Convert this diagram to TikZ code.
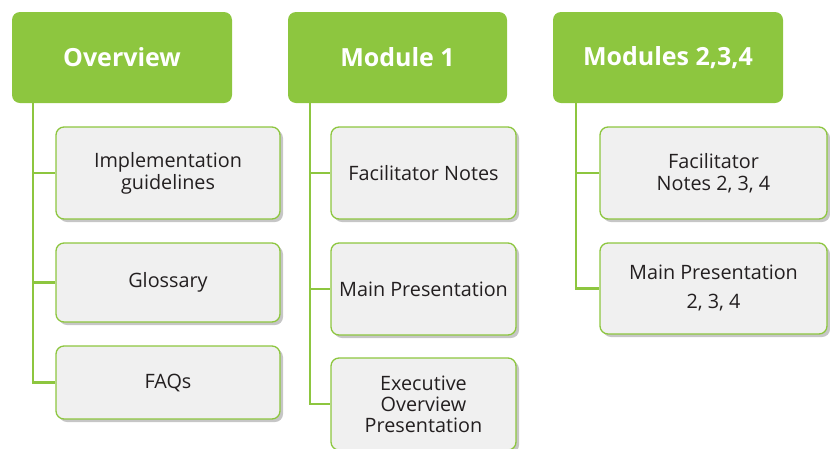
\documentclass[tikz,border=0pt]{standalone}
\usepackage{fontspec}
\setmainfont{Open Sans}
\usetikzlibrary{shadows}
\definecolor{leaf}{HTML}{8DC63F}
\definecolor{paper}{HTML}{F0F0F0}
\definecolor{ink}{HTML}{231F20}
\begin{document}
\begin{tikzpicture}
      [x=1pt,y=-1pt,%%%%%%%%%%%%%%%%%%%%%%%%%%%%%%
      head/.style={rectangle,rounded corners=8pt,fill=leaf,text=white,
        font=\fontsize{25}{30}\selectfont\bfseries,minimum height=91pt},
      item/.style={rectangle,rounded corners=8pt,draw=leaf,line width=1.3pt,
        fill=paper,text=ink,align=center,font=\fontsize{19.8}{22}\selectfont,
        drop shadow={shadow xshift=3pt,shadow yshift=-3pt,opacity=0.45}},
      link/.style={draw=leaf,line width=2.6pt},
      ]%%%%%%%%%%%%%%%%%%%%%%%%%%%%%%
      \useasboundingbox (0,0) rectangle (830,448);

      % column heads
      \node[head,minimum width=220pt] (ov)  at (122,57.5){Overview};
      \node[head,minimum width=219pt] (mod) at (397.5,57.5){Module 1};
      \node[head,minimum width=230pt] (mods) at (668,57.5){Modules 2,3,4};

      % overview items
      \node[item,minimum width=224pt,minimum height=92pt] (impl)  at (168,173){Implementation\\guidelines};
      \node[item,minimum width=224pt,minimum height=79pt] (gloss) at (168,282.5){Glossary};
      \node[item,minimum width=224pt,minimum height=73pt] (faq)   at (168,382.5){FAQs};

      % module 1 items
      \node[item,minimum width=185pt,minimum height=92pt] (fnote) at (423.5,173){Facilitator Notes};
      \node[item,minimum width=185pt,minimum height=92pt] (pres)  at (423.5,289){Main Presentation};
      \node[item,minimum width=185pt,minimum height=92pt] (exec)  at (423.5,404){Executive\\[-1pt]Overview\\[-1pt]Presentation};

      % modules 2,3,4 items
      \node[item,minimum width=227pt,minimum height=92pt] (fnotes) at (713.5,173){Facilitator\\Notes 2, 3, 4};
      \node[item,minimum width=227pt,minimum height=91pt] (press)  at (713.5,288.5){Main Presentation\\[7pt]2, 3, 4};

      % connectors
      \draw[link] ([xshift=21pt]ov.south west) |- (impl.west);
      \draw[link] ([xshift=21pt]ov.south west) |- (gloss.west);
      \draw[link] ([xshift=21pt]ov.south west) |- (faq.west);
      \draw[link] ([xshift=22pt]mod.south west) |- (fnote.west);
      \draw[link] ([xshift=22pt]mod.south west) |- (pres.west);
      \draw[link] ([xshift=22pt]mod.south west) |- (exec.west);
      \draw[link] ([xshift=23pt]mods.south west) |- (fnotes.west);
      \draw[link] ([xshift=23pt]mods.south west) |- (press.west);
    \end{tikzpicture}
\end{document}
